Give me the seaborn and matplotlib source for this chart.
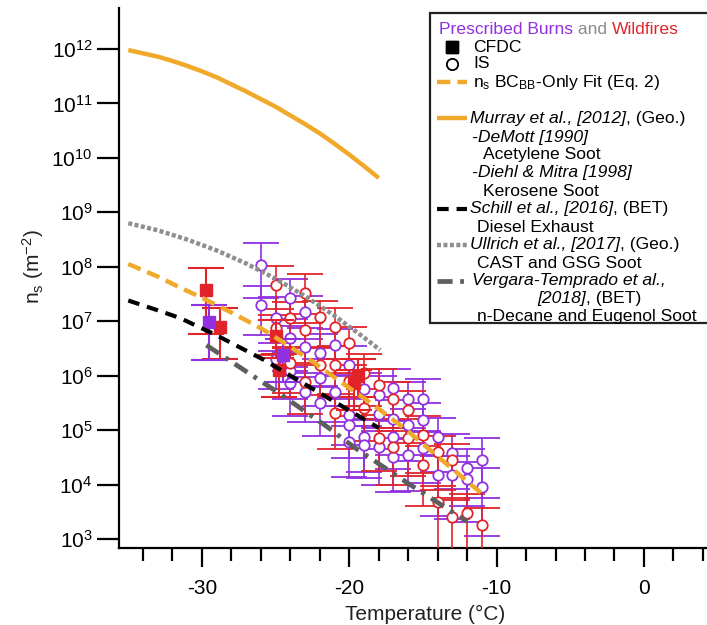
import numpy as np
import pandas as pd
import seaborn as sns
import matplotlib
matplotlib.use("Agg")
import matplotlib.pyplot as plt
from matplotlib.patches import Rectangle
from matplotlib.lines import Line2D
from matplotlib.ticker import MultipleLocator, NullLocator, FixedLocator

# ---------------- data (log10 of n_s in m^-2) ----------------
murray_T = [-35, -34, -33, -32, -31, -30, -29, -28, -27, -26, -25, -24,
            -23, -22, -21, -20, -19, -18]
murray_log = [11.98, 11.92, 11.86, 11.78, 11.69, 11.59, 11.48, 11.35, 11.22,
              11.08, 10.94, 10.78, 10.62, 10.45, 10.26, 10.06, 9.85, 9.63]

fit_T = [-35.0, -33.0, -31.5, -30.0, -28.0, -26.0, -24.7, -22.6, -20.6,
         -18.3, -16.1, -13.8, -10.9]
fit_log = [8.05, 7.82, 7.62, 7.43, 7.16, 6.87, 6.65, 6.28, 5.89, 5.45, 5.00,
           4.47, 3.81]

schill_T = [-35.0, -33.0, -31.5, -29.0, -25.8, -22.0, -18.0]
schill_log = [7.38, 7.20, 7.06, 6.74, 6.29, 5.68, 5.04]

ullrich_T = [-35.0, -33.0, -31.0, -29.0, -27.0, -25.0, -23.0, -21.0, -19.0, -17.9]
ullrich_log = [8.80, 8.67, 8.50, 8.30, 8.06, 7.78, 7.46, 7.10, 6.70, 6.47]

vergara_T = [-29.7, -25.0, -21.5, -19.7, -18.1, -16.0, -12.0]
vergara_log = [6.56, 5.72, 5.06, 4.69, 4.40, 4.02, 3.32]

# CFDC measurements (squares)
cfdc_wild_T = [-29.7, -28.8, -25.0, -24.8, -19.7, -19.4]
cfdc_wild_log = [7.57, 6.90, 6.72, 6.10, 5.86, 6.00]
cfdc_wild_up = [0.40, 0.35, 0.30, 0.30, 0.25, 0.30]
cfdc_wild_dn = [0.80, 0.60, 0.40, 0.50, 0.50, 0.40]

cfdc_presc_T = [-29.5, -24.5]
cfdc_presc_log = [6.99, 6.38]
cfdc_presc_up = [0.30, 0.30]
cfdc_presc_dn = [0.70, 0.50]

# IS measurements (open circles); source 0 = prescribed burn, 1 = wildfire
is_T = [-26, -26,
        -25, -25, -25, -25,
        -24, -24, -24, -24, -24, -24,
        -23, -23, -23, -23, -23, -23,
        -22, -22, -22, -22, -22,
        -21, -21, -21, -21, -21,
        -20, -20, -20, -20, -20, -20,
        -19, -19, -19, -19, -19,
        -18, -18, -18, -18, -18,
        -17, -17, -17, -17, -17, -17,
        -16, -16, -16, -16, -16,
        -15, -15, -15, -15, -15,
        -14, -14, -14, -14,
        -13, -13, -13, -13,
        -12, -12, -12,
        -11, -11, -11]
is_log = [8.03, 7.30,
          7.66, 7.05, 6.87, 6.30,
          7.42, 7.05, 6.69, 6.23, 6.08, 5.86,
          7.51, 7.17, 6.84, 6.53, 5.89, 5.70,
          7.07, 6.41, 6.20, 5.95, 5.49,
          6.90, 6.56, 6.20, 5.70, 5.31,
          6.60, 6.20, 5.90, 5.28, 5.09, 4.78,
          6.04, 5.75, 5.40, 4.88, 4.72,
          5.83, 5.64, 5.30, 4.85, 4.69,
          5.77, 5.58, 5.20, 4.88, 4.69, 4.51,
          5.58, 5.37, 5.09, 4.85, 4.54,
          5.58, 5.19, 4.91, 4.67, 4.36,
          4.88, 4.60, 4.17, 3.68,
          4.57, 4.45, 4.17, 3.41,
          4.30, 4.11, 3.47,
          4.45, 3.96, 3.26]
is_src = [0, 0,
          1, 0, 1, 0,
          0, 1, 0, 1, 0, 0,
          1, 0, 1, 0, 1, 0,
          1, 0, 1, 0, 0,
          1, 0, 1, 0, 1,
          1, 0, 1, 0, 0, 0,
          1, 0, 1, 0, 0,
          1, 0, 0, 1, 0,
          0, 1, 0, 0, 1, 0,
          0, 1, 0, 1, 0,
          0, 0, 1, 0, 1,
          0, 1, 0, 1,
          0, 1, 0, 1,
          0, 0, 1,
          0, 0, 1]
is_up = [0.40, 0.35,
         0.35, 0.40, 0.35, 0.30,
         0.35, 0.30, 0.35, 0.30, 0.35, 0.30,
         0.35, 0.30, 0.30, 0.35, 0.30, 0.35,
         0.30, 0.35, 0.30, 0.35, 0.30,
         0.35, 0.30, 0.35, 0.30, 0.35,
         0.30, 0.35, 0.30, 0.30, 0.35, 0.30,
         0.35, 0.30, 0.35, 0.30, 0.35,
         0.30, 0.35, 0.30, 0.35, 0.30,
         0.35, 0.30, 0.35, 0.30, 0.30, 0.35,
         0.30, 0.35, 0.30, 0.35, 0.30,
         0.35, 0.30, 0.35, 0.30, 0.35,
         0.35, 0.30, 0.35, 0.30,
         0.35, 0.30, 0.35, 0.30,
         0.35, 0.30, 0.35,
         0.40, 0.35, 0.30]
is_dn = [0.60, 0.55,
         0.55, 0.60, 0.50, 0.55,
         0.50, 0.55, 0.60, 0.55, 0.50, 0.60,
         0.55, 0.50, 0.60, 0.55, 0.60, 0.55,
         0.55, 0.60, 0.55, 0.50, 0.60,
         0.60, 0.55, 0.60, 0.55, 0.65,
         0.55, 0.60, 0.65, 0.55, 0.60, 0.65,
         0.60, 0.55, 0.60, 0.65, 0.60,
         0.55, 0.60, 0.65, 0.60, 0.70,
         0.60, 0.55, 0.65, 0.60, 0.70, 0.65,
         0.55, 0.60, 0.65, 0.70, 0.65,
         0.60, 0.65, 0.70, 0.65, 0.75,
         0.65, 0.70, 0.75, 0.90,
         0.65, 0.70, 0.80, 1.00,
         0.70, 0.80, 1.00,
         0.70, 0.90, 1.10]

# ---------------- styling ----------------
W, H = 707, 625
PURPLE = "#9130E0"
RED = "#E0242A"
ORANGE = "#F0A92A"
GREY_DOT = "#8E8E8E"
GREY_DD = "#5E5E5E"
FONT = ["Liberation Sans", "DejaVu Sans"]

sns.set_theme(style="ticks")
plt.rcParams["font.family"] = FONT
plt.rcParams["mathtext.fontset"] = "custom"
plt.rcParams["mathtext.rm"] = "Liberation Sans"
plt.rcParams["mathtext.it"] = "Liberation Sans:italic"
plt.rcParams["mathtext.bf"] = "Liberation Sans:bold"


def fx(px):
    return px / W


def fy(py):
    return 1 - py / H


fig = plt.figure(figsize=(W / 100, H / 100), dpi=100)
fig.patch.set_facecolor("white")
ax = fig.add_axes([fx(119), fy(548), fx(720) - fx(119), fy(8) - fy(548)])
ax.set_facecolor("white")

# ---------------- measurements ----------------
is_df = pd.DataFrame({"T": is_T, "log": is_log, "src": is_src,
                      "up": is_up, "dn": is_dn})
is_df["ns"] = 10.0 ** is_df["log"]
for src, col in [(0, PURPLE), (1, RED)]:
    d = is_df[is_df["src"] == src]
    lo = d["ns"] - 10.0 ** (d["log"] - d["dn"])
    hi = 10.0 ** (d["log"] + d["up"]) - d["ns"]
    ax.errorbar(d["T"], d["ns"], yerr=[lo, hi], fmt="o", ms=7.5,
                mfc="white", mec=col, mew=1.3, ecolor=col, elinewidth=1.2,
                capsize=13, capthick=1.2, zorder=3)


def cfdc(T, lg, up, dn, col):
    T = np.asarray(T)
    lg = np.asarray(lg)
    ns = 10.0 ** lg
    lo = ns - 10.0 ** (lg - np.asarray(dn))
    hi = 10.0 ** (lg + np.asarray(up)) - ns
    ax.errorbar(T, ns, yerr=[lo, hi], fmt="s", ms=9, mfc=col, mec=col,
                ecolor=col, elinewidth=1.5, capsize=13, capthick=1.5, zorder=4)


cfdc(cfdc_wild_T, cfdc_wild_log, cfdc_wild_up, cfdc_wild_dn, RED)
cfdc(cfdc_presc_T, cfdc_presc_log, cfdc_presc_up, cfdc_presc_dn, PURPLE)

# ---------------- parameterisations ----------------
def curve(T, lg, color, lw, dashes=None):
    sns.lineplot(x=T, y=10.0 ** np.asarray(lg), ax=ax, color=color, lw=lw,
                 sort=False, estimator=None, zorder=5)
    ln = ax.lines[-1]
    ln.set_solid_capstyle("butt")
    ln.set_solid_joinstyle("round")
    if dashes is not None:
        ln.set_dashes(dashes)
        ln.set_dash_capstyle("butt")
    return ln


curve(murray_T, murray_log, ORANGE, 3.2)
curve(ullrich_T, ullrich_log, GREY_DOT, 3.2, dashes=(0.9, 0.55))
curve(fit_T, fit_log, ORANGE, 3.2, dashes=(3.0, 1.6))
curve(schill_T, schill_log, "black", 3.0, dashes=(2.8, 1.9))
curve(vergara_T, vergara_log, GREY_DD, 3.4, dashes=(3.2, 1.6, 0.8, 1.6))

# ---------------- axes ----------------
ax.set_yscale("log")
ax.set_xlim(-35.63, -30 + (720 - 202) / 14.73)
ax.set_ylim(10 ** 2.834, 10 ** 12.753)
ax.yaxis.set_major_locator(FixedLocator([10.0 ** k for k in range(3, 13)]))
ax.set_yticklabels([f"$10^{{{k}}}$" for k in range(3, 13)])
ax.yaxis.set_minor_locator(NullLocator())
ax.xaxis.set_major_locator(FixedLocator([-30, -20, -10, 0]))
ax.xaxis.set_minor_locator(MultipleLocator(2))
ax.set_xticklabels(["-30", "-20", "-10", "0"])
for s in ["top", "right"]:
    ax.spines[s].set_visible(False)
for s in ["left", "bottom"]:
    ax.spines[s].set_color("black")
    ax.spines[s].set_linewidth(1.6)
ax.tick_params(axis="y", which="major", length=16, width=1.6, direction="out",
               colors="black", labelsize=15, pad=3)
ax.tick_params(axis="x", which="major", length=14, width=1.6, direction="out",
               colors="black", labelsize=15, pad=8)
ax.tick_params(axis="x", which="minor", length=9, width=1.6, direction="out",
               colors="black")
ax.set_xlabel("")
ax.set_ylabel("")

fig.text(fx(33), fy(267), r"n$_\mathrm{s}$ (m$^{\mathrm{-2}}$)", rotation=90,
         ha="center", va="center", fontsize=15, color="#222222")
fig.text(fx(425), fy(614), "Temperature (°C)", ha="center", va="center",
         fontsize=15, color="#222222")

# ---------------- legend ----------------
box = Rectangle((fx(430), fy(323)), fx(720) - fx(430), fy(13) - fy(323),
                transform=fig.transFigure, facecolor="white", edgecolor="#222222",
                lw=1.6, zorder=10)
fig.add_artist(box)

renderer = fig.canvas.get_renderer()
LFS = 12.6


def segments(x, y, segs):
    for text, style, color in segs:
        t = fig.text(fx(x), fy(y), text, fontsize=LFS, style=style, color=color,
                     ha="left", va="center", zorder=11)
        x += t.get_window_extent(renderer=renderer).width


segments(439, 30, [("Prescribed Burns", "normal", PURPLE),
                   (" and ", "normal", "#8A8A8A"),
                   ("Wildfires", "normal", RED)])
segments(473, 47, [("CFDC", "normal", "black")])
segments(473, 64, [("IS", "normal", "black")])
segments(473, 82, [(r"n$_\mathrm{s}$ BC$_\mathrm{BB}$-Only Fit (Eq. 2)", "normal", "black")])
segments(470, 118, [("Murray et al., [2012]", "italic", "black"),
                    (", (Geo.)", "normal", "black")])
segments(472, 137, [("-DeMott [1990]", "italic", "black")])
segments(483, 155, [("Acetylene Soot", "normal", "black")])
segments(472, 173, [("-Diehl & Mitra [1998]", "italic", "black")])
segments(483, 191, [("Kerosene Soot", "normal", "black")])
segments(470, 209, [("Schill et al., [2016]", "italic", "black"),
                    (", (BET)", "normal", "black")])
segments(477, 227, [("Diesel Exhaust", "normal", "black")])
segments(470, 245, [("Ullrich et al., [2017]", "italic", "black"),
                    (", (Geo.)", "normal", "black")])
segments(477, 263, [("CAST and GSG Soot", "normal", "black")])
segments(472, 281, [("Vergara-Temprado et al.,", "italic", "black")])
segments(537, 298, [("[2018]", "italic", "black"),
                    (", (BET)", "normal", "black")])
segments(477, 316, [("n-Decane and Eugenol Soot", "normal", "black")])


def handle(y, x0=437, x1=467, dashes=None, **kw):
    ln = Line2D([fx(x0), fx(x1)], [fy(y), fy(y)], transform=fig.transFigure,
                zorder=11, **kw)
    if dashes is not None:
        ln.set_dashes(dashes)
        ln.set_dash_capstyle("butt")
    fig.add_artist(ln)
    return ln


handle(47, x0=452, x1=452, lw=0, marker="s", ms=8, color="black")
handle(64, x0=452, x1=452, lw=0, marker="o", ms=8, mfc="white", mec="black", mew=1.2)
handle(82, lw=3.2, color=ORANGE, dashes=(3.0, 1.6))
handle(118, lw=3.2, color=ORANGE, solid_capstyle="butt")
handle(209, lw=3.0, color="black", dashes=(2.8, 1.9))
handle(245, lw=3.2, color=GREY_DOT, dashes=(0.9, 0.55))
handle(281, lw=3.4, color=GREY_DD, dashes=(3.2, 1.6, 0.8, 1.6))

fig.savefig("out.png", dpi=100, facecolor="white")
